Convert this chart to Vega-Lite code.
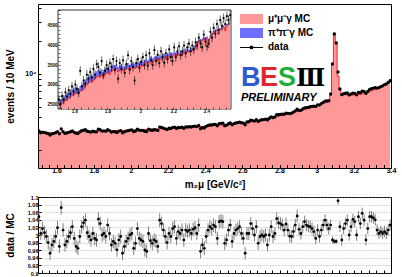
{
"$schema": "https://vega.github.io/schema/vega-lite/v6.json",
"background": "white",
"padding": {"left": 4, "top": 3, "right": 0, "bottom": 0},
"config": {
  "font": "Liberation Sans",
  "view": {"stroke": "black", "strokeWidth": 1},
  "axis": {"labelFont": "Liberation Sans", "labelFontWeight": "bold", "titleFont": "Liberation Sans", "titleFontWeight": "bold", "domain": false, "grid": false, "tickColor": "black", "labelColor": "black", "titleColor": "black", "tickCount": 200, "labelOverlap": false, "labelFlush": false}
},
"datasets": {
"main": [
{"x":1.505,"m":2875,"d":3013,"r":1.048,"e":0.018},{"x":1.515,"m":2879,"d":2891,"r":1.004,"e":0.018},{"x":1.525,"m":2882,"d":2931,"r":1.017,"e":0.018},{"x":1.535,"m":2886,"d":2903,"r":1.006,"e":0.018},{"x":1.545,"m":2889,"d":2877,"r":0.996,"e":0.018},{"x":1.555,"m":2893,"d":2835,"r":0.980,"e":0.018},{"x":1.565,"m":2896,"d":2757,"r":0.952,"e":0.018},{"x":1.575,"m":2900,"d":2825,"r":0.974,"e":0.018},{"x":1.585,"m":2903,"d":2854,"r":0.983,"e":0.018},{"x":1.595,"m":2907,"d":2895,"r":0.996,"e":0.018},
{"x":1.605,"m":2910,"d":2965,"r":1.019,"e":0.018},{"x":1.615,"m":2914,"d":2827,"r":0.970,"e":0.018},{"x":1.625,"m":2917,"d":3127,"r":1.072,"e":0.018},{"x":1.635,"m":2921,"d":2959,"r":1.013,"e":0.018},{"x":1.645,"m":2924,"d":2848,"r":0.974,"e":0.018},{"x":1.655,"m":2928,"d":2878,"r":0.983,"e":0.018},{"x":1.665,"m":2931,"d":2919,"r":0.996,"e":0.018},{"x":1.675,"m":2935,"d":2953,"r":1.006,"e":0.018},{"x":1.685,"m":2938,"d":3003,"r":1.022,"e":0.018},{"x":1.695,"m":2942,"d":2916,"r":0.991,"e":0.018},
{"x":1.705,"m":2945,"d":2857,"r":0.970,"e":0.018},{"x":1.715,"m":2949,"d":2846,"r":0.965,"e":0.018},{"x":1.725,"m":2952,"d":2940,"r":0.996,"e":0.018},{"x":1.735,"m":2956,"d":3021,"r":1.022,"e":0.018},{"x":1.745,"m":2959,"d":3054,"r":1.032,"e":0.018},{"x":1.755,"m":2963,"d":3079,"r":1.039,"e":0.018},{"x":1.765,"m":2966,"d":2984,"r":1.006,"e":0.018},{"x":1.775,"m":2970,"d":2958,"r":0.996,"e":0.018},{"x":1.785,"m":2973,"d":2934,"r":0.987,"e":0.018},{"x":1.795,"m":2977,"d":2989,"r":1.004,"e":0.018},
{"x":1.805,"m":2980,"d":2953,"r":0.991,"e":0.018},{"x":1.815,"m":2984,"d":2945,"r":0.987,"e":0.018},{"x":1.825,"m":2987,"d":3112,"r":1.042,"e":0.018},{"x":1.835,"m":2991,"d":3081,"r":1.030,"e":0.018},{"x":1.845,"m":2994,"d":2994,"r":1.000,"e":0.018},{"x":1.855,"m":2998,"d":3010,"r":1.004,"e":0.018},{"x":1.865,"m":3001,"d":2989,"r":0.996,"e":0.018},{"x":1.875,"m":3005,"d":3083,"r":1.026,"e":0.018},{"x":1.885,"m":3008,"d":3020,"r":1.004,"e":0.018},{"x":1.895,"m":3012,"d":2934,"r":0.974,"e":0.018},
{"x":1.905,"m":3015,"d":2964,"r":0.983,"e":0.018},{"x":1.915,"m":3019,"d":2953,"r":0.978,"e":0.018},{"x":1.925,"m":3023,"d":2905,"r":0.961,"e":0.018},{"x":1.935,"m":3027,"d":2988,"r":0.987,"e":0.018},{"x":1.945,"m":3031,"d":3019,"r":0.996,"e":0.018},{"x":1.955,"m":3035,"d":2889,"r":0.952,"e":0.018},{"x":1.965,"m":3040,"d":2949,"r":0.970,"e":0.018},{"x":1.975,"m":3044,"d":2992,"r":0.983,"e":0.018},{"x":1.985,"m":3049,"d":3022,"r":0.991,"e":0.018},{"x":1.995,"m":3053,"d":3053,"r":1.000,"e":0.018},
{"x":2.005,"m":3058,"d":3070,"r":1.004,"e":0.018},{"x":2.015,"m":3063,"d":2956,"r":0.965,"e":0.018},{"x":2.025,"m":3068,"d":3001,"r":0.978,"e":0.018},{"x":2.035,"m":3073,"d":3125,"r":1.017,"e":0.018},{"x":2.045,"m":3078,"d":3050,"r":0.991,"e":0.018},{"x":2.055,"m":3083,"d":3043,"r":0.987,"e":0.018},{"x":2.065,"m":3088,"d":3036,"r":0.983,"e":0.018},{"x":2.075,"m":3093,"d":2972,"r":0.961,"e":0.018},{"x":2.085,"m":3098,"d":2965,"r":0.957,"e":0.018},{"x":2.095,"m":3103,"d":3115,"r":1.004,"e":0.018},
{"x":2.105,"m":3109,"d":3062,"r":0.985,"e":0.018},{"x":2.115,"m":3114,"d":3046,"r":0.978,"e":0.018},{"x":2.125,"m":3120,"d":3079,"r":0.987,"e":0.018},{"x":2.135,"m":3125,"d":3072,"r":0.983,"e":0.018},{"x":2.145,"m":3131,"d":3037,"r":0.970,"e":0.018},{"x":2.155,"m":3137,"d":3259,"r":1.039,"e":0.018},{"x":2.165,"m":3143,"d":3237,"r":1.030,"e":0.018},{"x":2.175,"m":3149,"d":3190,"r":1.013,"e":0.018},{"x":2.185,"m":3155,"d":3142,"r":0.996,"e":0.018},{"x":2.195,"m":3161,"d":3098,"r":0.980,"e":0.018},
{"x":2.205,"m":3167,"d":3180,"r":1.004,"e":0.018},{"x":2.215,"m":3173,"d":3160,"r":0.996,"e":0.018},{"x":2.225,"m":3180,"d":3234,"r":1.017,"e":0.018},{"x":2.235,"m":3186,"d":3256,"r":1.022,"e":0.018},{"x":2.245,"m":3193,"d":3164,"r":0.991,"e":0.018},{"x":2.255,"m":3200,"d":3229,"r":1.009,"e":0.018},{"x":2.265,"m":3207,"d":3220,"r":1.004,"e":0.018},{"x":2.275,"m":3214,"d":3256,"r":1.013,"e":0.018},{"x":2.285,"m":3221,"d":3179,"r":0.987,"e":0.018},{"x":2.295,"m":3229,"d":3271,"r":1.013,"e":0.018},
{"x":2.305,"m":3236,"d":3265,"r":1.009,"e":0.018},{"x":2.315,"m":3244,"d":3286,"r":1.013,"e":0.018},{"x":2.325,"m":3252,"d":3265,"r":1.004,"e":0.018},{"x":2.335,"m":3260,"d":3309,"r":1.015,"e":0.018},{"x":2.345,"m":3268,"d":3330,"r":1.019,"e":0.018},{"x":2.355,"m":3277,"d":3290,"r":1.004,"e":0.018},{"x":2.365,"m":3285,"d":3370,"r":1.026,"e":0.018},{"x":2.375,"m":3294,"d":3152,"r":0.957,"e":0.018},{"x":2.385,"m":3303,"d":3217,"r":0.974,"e":0.018},{"x":2.395,"m":3312,"d":3196,"r":0.965,"e":0.018},
{"x":2.405,"m":3321,"d":3308,"r":0.996,"e":0.018},{"x":2.415,"m":3331,"d":3374,"r":1.013,"e":0.018},{"x":2.425,"m":3340,"d":3413,"r":1.022,"e":0.018},{"x":2.435,"m":3350,"d":3407,"r":1.017,"e":0.018},{"x":2.445,"m":3360,"d":3447,"r":1.026,"e":0.018},{"x":2.455,"m":3370,"d":3444,"r":1.022,"e":0.018},{"x":2.465,"m":3381,"d":3351,"r":0.991,"e":0.018},{"x":2.475,"m":3392,"d":3511,"r":1.035,"e":0.018},{"x":2.485,"m":3403,"d":3529,"r":1.037,"e":0.018},{"x":2.495,"m":3414,"d":3533,"r":1.035,"e":0.018},
{"x":2.505,"m":3425,"d":3350,"r":0.978,"e":0.017},{"x":2.515,"m":3437,"d":3392,"r":0.987,"e":0.017},{"x":2.525,"m":3450,"d":3495,"r":1.013,"e":0.017},{"x":2.535,"m":3463,"d":3553,"r":1.026,"e":0.017},{"x":2.545,"m":3477,"d":3418,"r":0.983,"e":0.017},{"x":2.555,"m":3492,"d":3506,"r":1.004,"e":0.017},{"x":2.565,"m":3507,"d":3553,"r":1.013,"e":0.017},{"x":2.575,"m":3523,"d":3583,"r":1.017,"e":0.017},{"x":2.585,"m":3540,"d":3618,"r":1.022,"e":0.017},{"x":2.595,"m":3557,"d":3571,"r":1.004,"e":0.017},
{"x":2.605,"m":3575,"d":3543,"r":0.991,"e":0.017},{"x":2.615,"m":3594,"d":3421,"r":0.952,"e":0.017},{"x":2.625,"m":3614,"d":3628,"r":1.004,"e":0.017},{"x":2.635,"m":3634,"d":3649,"r":1.004,"e":0.017},{"x":2.645,"m":3655,"d":3765,"r":1.030,"e":0.017},{"x":2.655,"m":3677,"d":3740,"r":1.017,"e":0.017},{"x":2.665,"m":3700,"d":3700,"r":1.000,"e":0.017},{"x":2.675,"m":3724,"d":3806,"r":1.022,"e":0.017},{"x":2.685,"m":3749,"d":3666,"r":0.978,"e":0.017},{"x":2.695,"m":3775,"d":3760,"r":0.996,"e":0.017},
{"x":2.705,"m":3802,"d":3802,"r":1.000,"e":0.017},{"x":2.715,"m":3831,"d":3816,"r":0.996,"e":0.017},{"x":2.725,"m":3861,"d":3861,"r":1.000,"e":0.017},{"x":2.735,"m":3892,"d":3791,"r":0.974,"e":0.017},{"x":2.745,"m":3924,"d":3924,"r":1.000,"e":0.017},{"x":2.755,"m":3957,"d":4044,"r":1.022,"e":0.017},{"x":2.765,"m":3991,"d":3975,"r":0.996,"e":0.017},{"x":2.775,"m":4026,"d":4042,"r":1.004,"e":0.017},{"x":2.785,"m":4062,"d":4237,"r":1.043,"e":0.017},{"x":2.795,"m":4099,"d":4230,"r":1.032,"e":0.017},
{"x":2.805,"m":4137,"d":4261,"r":1.030,"e":0.017},{"x":2.815,"m":4176,"d":4285,"r":1.026,"e":0.017},{"x":2.825,"m":4216,"d":4271,"r":1.013,"e":0.017},{"x":2.835,"m":4257,"d":4380,"r":1.029,"e":0.017},{"x":2.845,"m":4299,"d":4355,"r":1.013,"e":0.017},{"x":2.855,"m":4342,"d":4329,"r":0.997,"e":0.017},{"x":2.865,"m":4386,"d":4368,"r":0.996,"e":0.017},{"x":2.875,"m":4431,"d":4471,"r":1.009,"e":0.017},{"x":2.885,"m":4477,"d":4593,"r":1.026,"e":0.017},{"x":2.895,"m":4524,"d":4750,"r":1.050,"e":0.017},
{"x":2.905,"m":4572,"d":4641,"r":1.015,"e":0.016},{"x":2.915,"m":4622,"d":4640,"r":1.004,"e":0.016},{"x":2.925,"m":4674,"d":4777,"r":1.022,"e":0.016},{"x":2.935,"m":4727,"d":4892,"r":1.035,"e":0.016},{"x":2.945,"m":4782,"d":4906,"r":1.026,"e":0.016},{"x":2.955,"m":4838,"d":4949,"r":1.023,"e":0.016},{"x":2.965,"m":4896,"d":5004,"r":1.022,"e":0.016},{"x":2.975,"m":4956,"d":5040,"r":1.017,"e":0.016},{"x":2.985,"m":5018,"d":5063,"r":1.009,"e":0.016},{"x":2.995,"m":5082,"d":5036,"r":0.991,"e":0.016},
{"x":3.005,"m":5148,"d":5215,"r":1.013,"e":0.016},{"x":3.015,"m":5216,"d":5195,"r":0.996,"e":0.016},{"x":3.025,"m":5286,"d":5355,"r":1.013,"e":0.016},{"x":3.035,"m":5358,"d":5497,"r":1.026,"e":0.016},{"x":3.045,"m":5432,"d":5644,"r":1.039,"e":0.016},{"x":3.055,"m":5508,"d":5651,"r":1.026,"e":0.016},{"x":3.065,"m":5586,"d":5681,"r":1.017,"e":0.016},{"x":3.075,"m":6388,"d":6554,"r":1.026,"e":0.014},{"x":3.085,"m":12513,"d":12350,"r":0.987,"e":0.009},{"x":3.095,"m":23680,"d":23280,"r":0.983,"e":0.007},
{"x":3.105,"m":19580,"d":19250,"r":0.983,"e":0.007},{"x":3.115,"m":9570,"d":10430,"r":1.090,"e":0.01},{"x":3.125,"m":7128,"d":7285,"r":1.022,"e":0.014},{"x":3.135,"m":6550,"d":6465,"r":0.987,"e":0.015},{"x":3.145,"m":6480,"d":6590,"r":1.017,"e":0.015},{"x":3.155,"m":6460,"d":6654,"r":1.030,"e":0.015},{"x":3.165,"m":6440,"d":6691,"r":1.039,"e":0.015},{"x":3.175,"m":6430,"d":6430,"r":1.000,"e":0.015},{"x":3.185,"m":6420,"d":6561,"r":1.022,"e":0.015},{"x":3.195,"m":6415,"d":6678,"r":1.041,"e":0.015},
{"x":3.205,"m":6420,"d":6645,"r":1.035,"e":0.015},{"x":3.215,"m":6440,"d":6440,"r":1.000,"e":0.015},{"x":3.225,"m":6480,"d":6791,"r":1.048,"e":0.015},{"x":3.235,"m":6530,"d":6726,"r":1.030,"e":0.015},{"x":3.245,"m":6590,"d":6966,"r":1.057,"e":0.015},{"x":3.255,"m":6650,"d":6909,"r":1.039,"e":0.015},{"x":3.265,"m":6720,"d":6633,"r":0.987,"e":0.015},{"x":3.275,"m":6800,"d":6916,"r":1.017,"e":0.015},{"x":3.285,"m":6890,"d":7221,"r":1.048,"e":0.015},{"x":3.295,"m":6990,"d":7326,"r":1.048,"e":0.015},
{"x":3.305,"m":7100,"d":7420,"r":1.045,"e":0.015},{"x":3.315,"m":7210,"d":7498,"r":1.040,"e":0.015},{"x":3.325,"m":7330,"d":7425,"r":1.013,"e":0.015},{"x":3.335,"m":7460,"d":7490,"r":1.004,"e":0.015},{"x":3.345,"m":7600,"d":7668,"r":1.009,"e":0.015},{"x":3.355,"m":7750,"d":7781,"r":1.004,"e":0.015},{"x":3.365,"m":7910,"d":7981,"r":1.009,"e":0.015},{"x":3.375,"m":8080,"d":8112,"r":1.004,"e":0.015},{"x":3.385,"m":8260,"d":8367,"r":1.013,"e":0.015},{"x":3.395,"m":8450,"d":8670,"r":1.026,"e":0.015}
],
"inset": [
{"x":1.505,"mu":2440,"tot":2560,"dat":2620,"e":120},{"x":1.515,"mu":2470,"tot":2600,"dat":2500,"e":120},{"x":1.525,"mu":2510,"tot":2640,"dat":2700,"e":120},{"x":1.535,"mu":2550,"tot":2680,"dat":2610,"e":120},{"x":1.545,"mu":2590,"tot":2720,"dat":2800,"e":120},{"x":1.555,"mu":2620,"tot":2760,"dat":2690,"e":120},{"x":1.565,"mu":2650,"tot":2790,"dat":2850,"e":120},{"x":1.575,"mu":2690,"tot":2830,"dat":2760,"e":120},{"x":1.585,"mu":2720,"tot":2860,"dat":2950,"e":120},{"x":1.595,"mu":2740,"tot":2880,"dat":2820,"e":120},
{"x":1.605,"mu":2770,"tot":2910,"dat":3000,"e":120},{"x":1.615,"mu":2790,"tot":2930,"dat":2880,"e":120},{"x":1.625,"mu":2760,"tot":2900,"dat":2790,"e":120},{"x":1.635,"mu":2830,"tot":2970,"dat":3350,"e":120},{"x":1.645,"mu":2850,"tot":2990,"dat":2950,"e":120},{"x":1.655,"mu":2880,"tot":3030,"dat":3100,"e":120},{"x":1.665,"mu":2950,"tot":3100,"dat":3020,"e":120},{"x":1.675,"mu":3000,"tot":3150,"dat":3250,"e":120},{"x":1.685,"mu":3040,"tot":3190,"dat":3150,"e":120},{"x":1.695,"mu":3080,"tot":3230,"dat":3320,"e":120},
{"x":1.705,"mu":3060,"tot":3210,"dat":3180,"e":120},{"x":1.715,"mu":3110,"tot":3260,"dat":3400,"e":120},{"x":1.725,"mu":3150,"tot":3300,"dat":3250,"e":120},{"x":1.735,"mu":3190,"tot":3340,"dat":3520,"e":120},{"x":1.745,"mu":3220,"tot":3370,"dat":3450,"e":120},{"x":1.755,"mu":3200,"tot":3350,"dat":3300,"e":120},{"x":1.765,"mu":3250,"tot":3390,"dat":3600,"e":120},{"x":1.775,"mu":3180,"tot":3320,"dat":3250,"e":120},{"x":1.785,"mu":3270,"tot":3410,"dat":3350,"e":120},{"x":1.795,"mu":3290,"tot":3430,"dat":3500,"e":120},
{"x":1.805,"mu":3310,"tot":3450,"dat":3400,"e":120},{"x":1.815,"mu":3260,"tot":3400,"dat":3550,"e":120},{"x":1.825,"mu":3340,"tot":3480,"dat":3450,"e":120},{"x":1.835,"mu":3380,"tot":3520,"dat":3650,"e":120},{"x":1.845,"mu":3350,"tot":3490,"dat":3380,"e":120},{"x":1.855,"mu":3400,"tot":3530,"dat":3600,"e":120},{"x":1.865,"mu":3320,"tot":3450,"dat":3150,"e":120},{"x":1.875,"mu":3360,"tot":3490,"dat":3550,"e":120},{"x":1.885,"mu":3390,"tot":3520,"dat":3400,"e":120},{"x":1.895,"mu":3350,"tot":3470,"dat":3620,"e":120},
{"x":1.905,"mu":3370,"tot":3490,"dat":3300,"e":120},{"x":1.915,"mu":3400,"tot":3520,"dat":3520,"e":120},{"x":1.925,"mu":3430,"tot":3550,"dat":3750,"e":120},{"x":1.935,"mu":3380,"tot":3500,"dat":3380,"e":120},{"x":1.945,"mu":3420,"tot":3540,"dat":3600,"e":120},{"x":1.955,"mu":3450,"tot":3570,"dat":3450,"e":120},{"x":1.965,"mu":3410,"tot":3530,"dat":3100,"e":120},{"x":1.975,"mu":3460,"tot":3580,"dat":3550,"e":120},{"x":1.985,"mu":3440,"tot":3550,"dat":3650,"e":120},{"x":1.995,"mu":3480,"tot":3590,"dat":3420,"e":120},
{"x":2.005,"mu":3500,"tot":3610,"dat":3580,"e":120},{"x":2.015,"mu":3470,"tot":3580,"dat":3700,"e":120},{"x":2.025,"mu":3520,"tot":3630,"dat":3500,"e":120},{"x":2.035,"mu":3550,"tot":3660,"dat":3750,"e":120},{"x":2.045,"mu":3510,"tot":3620,"dat":3480,"e":120},{"x":2.055,"mu":3570,"tot":3680,"dat":3800,"e":120},{"x":2.065,"mu":3600,"tot":3710,"dat":3620,"e":120},{"x":2.075,"mu":3560,"tot":3670,"dat":3500,"e":120},{"x":2.085,"mu":3620,"tot":3720,"dat":3880,"e":120},{"x":2.095,"mu":3640,"tot":3740,"dat":3600,"e":120},
{"x":2.105,"mu":3600,"tot":3700,"dat":3760,"e":120},{"x":2.115,"mu":3660,"tot":3760,"dat":3550,"e":120},{"x":2.125,"mu":3630,"tot":3730,"dat":3850,"e":120},{"x":2.135,"mu":3680,"tot":3780,"dat":3700,"e":120},{"x":2.145,"mu":3700,"tot":3790,"dat":3560,"e":120},{"x":2.155,"mu":3660,"tot":3750,"dat":3800,"e":120},{"x":2.165,"mu":3720,"tot":3810,"dat":3650,"e":120},{"x":2.175,"mu":3690,"tot":3780,"dat":3900,"e":120},{"x":2.185,"mu":3740,"tot":3830,"dat":3700,"e":120},{"x":2.195,"mu":3710,"tot":3800,"dat":3600,"e":120},
{"x":2.205,"mu":3760,"tot":3840,"dat":3950,"e":120},{"x":2.215,"mu":3730,"tot":3810,"dat":3700,"e":120},{"x":2.225,"mu":3780,"tot":3860,"dat":3850,"e":120},{"x":2.235,"mu":3750,"tot":3830,"dat":3980,"e":120},{"x":2.245,"mu":3800,"tot":3880,"dat":3750,"e":120},{"x":2.255,"mu":3770,"tot":3850,"dat":3850,"e":120},{"x":2.265,"mu":3820,"tot":3900,"dat":4000,"e":120},{"x":2.275,"mu":3790,"tot":3870,"dat":3800,"e":120},{"x":2.285,"mu":3850,"tot":3920,"dat":3950,"e":120},{"x":2.295,"mu":3830,"tot":3900,"dat":4050,"e":120},
{"x":2.305,"mu":3880,"tot":3950,"dat":3850,"e":120},{"x":2.315,"mu":3860,"tot":3930,"dat":4000,"e":120},{"x":2.325,"mu":3910,"tot":3980,"dat":3900,"e":120},{"x":2.335,"mu":3930,"tot":4000,"dat":4080,"e":120},{"x":2.345,"mu":4050,"tot":4110,"dat":4000,"e":120},{"x":2.355,"mu":4100,"tot":4160,"dat":4200,"e":120},{"x":2.365,"mu":4080,"tot":4140,"dat":4050,"e":120},{"x":2.375,"mu":4120,"tot":4180,"dat":3950,"e":120},{"x":2.385,"mu":4150,"tot":4210,"dat":4280,"e":120},{"x":2.395,"mu":4130,"tot":4190,"dat":4100,"e":120},
{"x":2.405,"mu":4180,"tot":4240,"dat":3980,"e":120},{"x":2.415,"mu":4100,"tot":4160,"dat":4050,"e":120},{"x":2.425,"mu":4200,"tot":4250,"dat":4350,"e":120},{"x":2.435,"mu":4280,"tot":4330,"dat":4200,"e":120},{"x":2.445,"mu":4320,"tot":4370,"dat":4450,"e":120},{"x":2.455,"mu":4350,"tot":4400,"dat":4300,"e":120},{"x":2.465,"mu":4380,"tot":4430,"dat":4550,"e":120},{"x":2.475,"mu":4300,"tot":4350,"dat":4400,"e":120},{"x":2.485,"mu":4400,"tot":4450,"dat":4650,"e":120},{"x":2.495,"mu":4430,"tot":4480,"dat":4500,"e":120},
{"x":2.505,"mu":4460,"tot":4510,"dat":4700,"e":120},{"x":2.515,"mu":4380,"tot":4430,"dat":4550,"e":120},{"x":2.525,"mu":4500,"tot":4550,"dat":4750,"e":120},{"x":2.535,"mu":4540,"tot":4590,"dat":4650,"e":120},{"x":2.545,"mu":4580,"tot":4630,"dat":4780,"e":120}
]
},
"spacing": 4,
"vconcat": [
{
  "width": 353, "height": 164,
  "layer": [
    {
      "data": {"name": "main"},
      "layer": [
        {"mark": {"type": "area", "interpolate": "step", "clip": true, "opacity": 1},
         "encoding": {
           "x": {"field": "x", "type": "quantitative", "scale": {"domain": [1.5, 3.4], "nice": false, "zero": false},
                 "axis": {"values": [1.52,1.56,1.6,1.64,1.68,1.72,1.76,1.8,1.84,1.88,1.92,1.96,2,2.04,2.08,2.12,2.16,2.2,2.24,2.28,2.32,2.36,2.4,2.44,2.48,2.52,2.56,2.6,2.64,2.68,2.72,2.76,2.8,2.84,2.88,2.92,2.96,3,3.04,3.08,3.12,3.16,3.2,3.24,3.28,3.32,3.36,3.4],
                          "labelExpr": "abs(datum.value*5-round(datum.value*5))<0.001 ? format(datum.value,'~g') : ''",
                          "tickCount": 200, "labelOverlap": false, "labelFlush": false,
                          "tickSize": -3.5, "labelPadding": 2, "labelFontSize": 7, "title": "m₂μ [GeV/c²]", "titleFontSize": 10, "titlePadding": 6, "zindex": 1}},
           "y": {"field": "m", "type": "quantitative", "scale": {"type": "log", "domain": [1373, 43850], "nice": false},
                 "axis": {"values": [2000,3000,4000,5000,6000,7000,8000,9000,10000,20000,30000,40000],
                          "labelExpr": "datum.value == 10000 ? '10⁴' : ''", "tickCount": 200, "labelOverlap": false,
                          "tickSize": -3, "labelPadding": 5, "labelFontSize": 7, "title": "events / 10 MeV", "titleFontSize": 10, "titlePadding": 5, "minExtent": 18, "maxExtent": 18, "zindex": 1}},
           "y2": {"datum": 1373},
           "color": {"datum": "μ⁺μ⁻γ MC", "type": "nominal",
                     "scale": {"domain": ["μ⁺μ⁻γ MC", "π⁺π⁻γ MC", "data"], "range": ["#ff9999", "#6f6fff", "transparent"]},
                     "legend": {"orient": "none", "legendX": 208.5, "legendY": 10, "title": null, "padding": 0,
                                "symbolType": "M-2.3,-1H2.3V1H-2.3Z", "symbolSize": 100, "symbolStrokeWidth": 0, "symbolOpacity": 1,
                                "labelFont": "Liberation Sans", "labelFontSize": 10, "labelFontWeight": "bold", "labelColor": "black", "labelOffset": 11.5, "rowPadding": 4}}
         }},
        {"mark": {"type": "line", "interpolate": "step", "color": "#ff2020", "strokeWidth": 1, "clip": true},
         "encoding": {"x": {"field": "x", "type": "quantitative"}, "y": {"field": "m", "type": "quantitative"}}},
        {"mark": {"type": "circle", "size": 11, "color": "black", "opacity": 1, "clip": true},
         "encoding": {"x": {"field": "x", "type": "quantitative"}, "y": {"field": "d", "type": "quantitative"}}}
      ]
    },
    {
      "data": {"values": [{}]},
      "layer": [
        {"mark": {"type": "rule", "color": "black", "strokeWidth": 1},
         "encoding": {"x": {"datum": 2.5872, "type": "quantitative", "scale": {"domain": [1.5, 3.4], "nice": false, "zero": false}, "axis": null},
                      "x2": {"datum": 2.7111},
                      "y": {"datum": 17504, "type": "quantitative", "scale": {"type": "log", "domain": [1373, 43850], "nice": false}, "axis": null}}},
        {"mark": {"type": "circle", "size": 14, "color": "black", "opacity": 1},
         "encoding": {"x": {"datum": 2.6491, "type": "quantitative"}, "y": {"datum": 17504, "type": "quantitative"}}},
        {"mark": {"type": "text", "text": "B", "font": "Liberation Sans", "fontWeight": "bold", "fontSize": 27, "color": "#2a5bd0", "align": "left", "baseline": "alphabetic"},
         "encoding": {"x": {"datum": 2.5926, "type": "quantitative"}, "y": {"datum": 7762, "type": "quantitative"}}},
        {"mark": {"type": "text", "text": "E", "font": "Liberation Sans", "fontWeight": "bold", "fontSize": 27, "color": "#e3262e", "align": "left", "baseline": "alphabetic"},
         "encoding": {"x": {"datum": 2.6949, "type": "quantitative"}, "y": {"datum": 7762, "type": "quantitative"}}},
        {"mark": {"type": "text", "text": "S", "font": "Liberation Sans", "fontWeight": "bold", "fontSize": 27, "color": "#1fae3a", "align": "left", "baseline": "alphabetic"},
         "encoding": {"x": {"datum": 2.7918, "type": "quantitative"}, "y": {"datum": 7762, "type": "quantitative"}}},
        {"mark": {"type": "text", "text": "Ⅲ", "font": "DejaVu Serif", "fontWeight": "bold", "fontSize": 24, "color": "#000000", "align": "left", "baseline": "alphabetic"},
         "encoding": {"x": {"datum": 2.8887, "type": "quantitative"}, "y": {"datum": 7762, "type": "quantitative"}}},
        {"mark": {"type": "text", "text": "PRELIMINARY", "font": "Liberation Sans", "fontWeight": "bold", "fontStyle": "italic", "fontSize": 11, "color": "#000000", "align": "left", "baseline": "alphabetic"},
         "encoding": {"x": {"datum": 2.5926, "type": "quantitative"}, "y": {"datum": 5654, "type": "quantitative"}}}
      ]
    },
    {
      "data": {"name": "inset"},
      "layer": [
        {"data": {"values": [{}]}, "mark": {"type": "rect", "fill": "white", "stroke": "black", "strokeWidth": 0.8},
         "encoding": {
           "x": {"datum": 1.5, "type": "quantitative", "scale": {"domain": [1.5, 2.55], "range": [20, 193], "nice": false, "zero": false},
                 "axis": {"orient": "bottom", "offset": -59, "values": [1.52,1.56,1.6,1.64,1.68,1.72,1.76,1.8,1.84,1.88,1.92,1.96,2,2.04,2.08,2.12,2.16,2.2,2.24,2.28,2.32,2.36,2.4,2.44,2.48,2.52],
                          "labelExpr": "abs(datum.value*5-round(datum.value*5))<0.001 ? format(datum.value,'~g') : ''", "tickCount": 200, "labelOverlap": false, "labelFlush": false,
                          "tickSize": -2, "tickWidth": 0.6, "labelPadding": 1.5, "labelFontSize": 4.5, "title": null, "zindex": 2}},
           "x2": {"datum": 2.55},
           "y": {"datum": 2372, "type": "quantitative", "scale": {"domain": [2372, 4910], "range": [105, 6], "nice": false, "zero": false},
                 "axis": {"orient": "left", "offset": -20, "values": [2400,2500,2600,2700,2800,2900,3000,3100,3200,3300,3400,3500,3600,3700,3800,3900,4000,4100,4200,4300,4400,4500,4600,4700,4800,4900],
                          "labelExpr": "datum.value % 500 == 0 ? format(datum.value,'d') : ''", "tickCount": 200, "labelOverlap": false,
                          "tickSize": -2, "tickWidth": 0.6, "labelPadding": 3, "labelFontSize": 4.5, "title": null, "zindex": 2}},
           "y2": {"datum": 4910}
         }},
        {"mark": {"type": "area", "interpolate": "step", "fill": "#ff9999", "opacity": 1},
         "encoding": {"x": {"field": "x", "type": "quantitative"}, "y": {"field": "mu", "type": "quantitative"}, "y2": {"datum": 2372}}},
        {"mark": {"type": "area", "interpolate": "step", "opacity": 1},
         "encoding": {"x": {"field": "x", "type": "quantitative"}, "y": {"field": "tot", "type": "quantitative"}, "y2": {"field": "mu"}, "color": {"datum": "π⁺π⁻γ MC", "type": "nominal"}}},
        {"mark": {"type": "line", "interpolate": "step", "color": "#ff2020", "strokeWidth": 0.8},
         "encoding": {"x": {"field": "x", "type": "quantitative"}, "y": {"field": "mu", "type": "quantitative"}}},
        {"mark": {"type": "errorbar", "color": "black", "thickness": 0.6},
         "encoding": {"x": {"field": "x", "type": "quantitative"}, "y": {"field": "dat", "type": "quantitative"}, "yError": {"field": "e"}}},
        {"mark": {"type": "circle", "size": 5, "color": "black", "opacity": 1},
         "encoding": {"x": {"field": "x", "type": "quantitative"}, "y": {"field": "dat", "type": "quantitative"}}}
      ]
    }
  ],
  "resolve": {"scale": {"x": "independent", "y": "independent"}}
},
{
  "width": 353, "height": 76,
  "data": {"name": "main"},
  "layer": [
    {"mark": {"type": "errorbar", "color": "#808080", "thickness": 1},
     "encoding": {
       "x": {"field": "x", "type": "quantitative", "scale": {"domain": [1.5, 3.4], "nice": false, "zero": false},
             "axis": {"values": [1.52,1.56,1.6,1.64,1.68,1.72,1.76,1.8,1.84,1.88,1.92,1.96,2,2.04,2.08,2.12,2.16,2.2,2.24,2.28,2.32,2.36,2.4,2.44,2.48,2.52,2.56,2.6,2.64,2.68,2.72,2.76,2.8,2.84,2.88,2.92,2.96,3,3.04,3.08,3.12,3.16,3.2,3.24,3.28,3.32,3.36,3.4],
                      "tickCount": 200, "labels": false, "tickSize": -3, "title": null, "zindex": 1}},
       "y": {"field": "r", "type": "quantitative", "scale": {"domain": [0.9, 1.1], "nice": false, "zero": false},
             "axis": {"values": [0.9,0.92,0.94,0.96,0.98,1,1.02,1.04,1.06,1.08,1.1], "format": "~g", "tickCount": 200, "labelOverlap": false,
                      "tickSize": -3, "labelPadding": 3, "labelFontSize": 5.5, "title": "data / MC", "titleFontSize": 10, "titlePadding": 5, "minExtent": 18, "maxExtent": 18,
                      "grid": true, "gridDash": [1, 2], "gridColor": "#888888", "gridWidth": 0.7}},
       "yError": {"field": "e"}
     }},
    {"mark": {"type": "circle", "size": 8, "color": "black", "opacity": 1},
     "encoding": {"x": {"field": "x", "type": "quantitative"}, "y": {"field": "r", "type": "quantitative"}}}
  ]
}
]
}
